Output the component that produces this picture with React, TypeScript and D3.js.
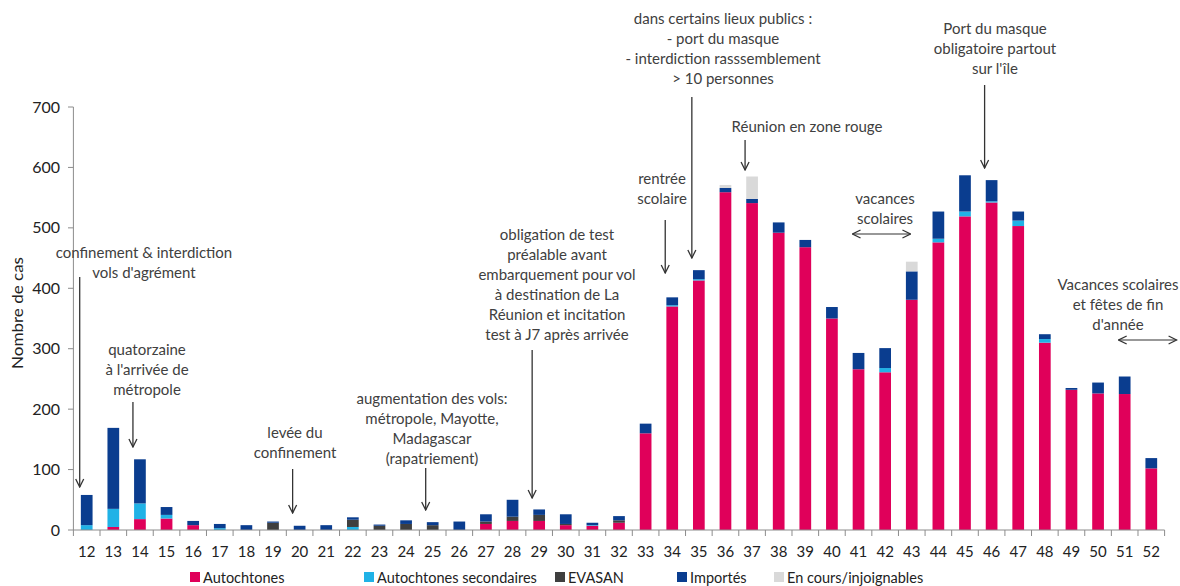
import React from 'react';
import * as d3 from 'd3';

const weeks = [12,13,14,15,16,17,18,19,20,21,22,23,24,25,26,27,28,29,30,31,32,33,34,35,36,37,38,39,40,41,42,43,44,45,46,47,48,49,50,51,52];

const autochtones = [0,5,18,19,8,0,0,0,0,0,0,0,0,0,0,10,15,15,8,7,12,160,370,413,559,541,492,468,350,266,261,381,476,519,542,503,310,232,226,225,102];
const secondaires = [8,30,26,6,0,3,0,0,0,0,5,0,0,0,0,0,0,0,0,1,0,0,2,2,0,0,0,0,0,0,7,0,6,8,2,9,6,0,0,0,0];
const evasan = [0,0,0,0,0,0,0,12,0,0,12,7,10,8,0,4,7,10,2,0,4,0,0,0,0,0,0,0,0,0,0,0,0,0,0,0,0,0,0,0,0];
const importes = [50,134,73,13,7,7,8,2,7,8,4,2,6,5,14,12,28,9,16,4,7,16,13,15,7,7,17,12,19,27,33,47,45,60,35,15,8,3,18,29,17];
const enCours = [0,0,0,0,0,0,0,0,0,0,0,0,0,0,0,0,0,0,0,0,0,0,0,0,5,37,0,0,0,0,0,16,0,0,0,0,0,0,0,0,0];

const seriesNames = ['Autochtones', 'Autochtones secondaires', 'EVASAN', 'Importés', 'En cours/injoignables'];
const seriesColors = ['#e0005a', '#20b2e6', '#3f3f3f', '#0a3d8f', '#d9d9d9'];
const yTicks = [0, 100, 200, 300, 400, 500, 600, 700];

const FONT = 'Lato, "Open Sans", sans-serif';
const TEXT = '#404040';

// annotations: text lines anchored at a center x and first baseline
const notes = [
  { x: 144, y: 258, lines: ['confinement &  interdiction', "vols d'agrément"] },
  { x: 147, y: 355, lines: ['quatorzaine', "à l'arrivée de", 'métropole'] },
  { x: 295, y: 438, lines: ['levée du', 'confinement'] },
  { x: 432, y: 404, lines: ['augmentation des vols:', 'métropole, Mayotte,', 'Madagascar', '(rapatriement)'] },
  { x: 557, y: 240, lines: ['obligation de test', 'préalable avant', 'embarquement pour vol', 'à destination de La', 'Réunion et incitation', 'test à J7 après arrivée'] },
  { x: 662, y: 184, lines: ['rentrée', 'scolaire'] },
  { x: 723, y: 24, lines: ['dans certains lieux publics :', '- port du masque', '- interdiction rasssemblement', '> 10 personnes'] },
  { x: 807, y: 132, lines: ['Réunion en zone rouge'] },
  { x: 885, y: 204, lines: ['vacances', 'scolaires'] },
  { x: 995, y: 34, lines: ['Port du masque', 'obligatoire partout', "sur l'île"] },
  { x: 1118, y: 290, lines: ['Vacances scolaires', 'et fêtes de fin', "d'année"] },
];

// down arrows: week, y start, y end
const arrows = [
  { week: 12, y1: 277, y2: 487 },
  { week: 14, y1: 402, y2: 447 },
  { week: 20, y1: 469, y2: 513 },
  { week: 25, y1: 468, y2: 510 },
  { week: 29, y1: 350, y2: 498 },
  { week: 34, y1: 220, y2: 273 },
  { week: 35, y1: 97, y2: 258 },
  { week: 37, y1: 140, y2: 170 },
  { week: 46, y1: 85, y2: 168 },
];

const spans = [
  { from: 41, to: 43, y: 234 },
  { from: 51, to: 53, y: 340 },
];

export default function App() {
  const width = 1180;
  const height = 586;

  const x = d3.scaleBand<string>()
    .domain(weeks.map(String))
    .range([73.4, 1164.6])
    .paddingInner(0.56)
    .paddingOuter(0.28);
  const step = x.step();
  const y = d3.scaleLinear().domain([0, 700]).range([530, 107]);

  const rows = weeks.map((w, i) => ({
    week: String(w),
    s0: autochtones[i], s1: secondaires[i], s2: evasan[i], s3: importes[i], s4: enCours[i],
  }));
  const stack = d3.stack<any>().keys(['s0', 's1', 's2', 's3', 's4'])(rows);

  const cx = (w: number) => (x(String(w)) ?? 0) + x.bandwidth() / 2;
  const edge = (w: number) => 73.4 + (w - 12) * step;

  const legendX = [190, 364, 555, 677, 774];

  return (
    <svg width={width} height={height} style={{ position: 'absolute', left: 0, top: 0, background: '#fff' }} fontFamily={FONT}>
      <defs>
        <marker id="ah" viewBox="0 0 10 10" refX="9" refY="5" markerWidth="10" markerHeight="10" orient="auto-start-reverse" markerUnits="userSpaceOnUse">
          <path d="M1,1 L9,5 L1,9" fill="none" stroke="#333" strokeWidth="1.3" />
        </marker>
      </defs>

      {/* bars */}
      {stack.map((layer, li) => (
        <g key={li} fill={seriesColors[li]}>
          {layer.map((d, i) => (d[1] - d[0] > 0 ? (
            <rect key={i} x={x(String(weeks[i]))} y={y(d[1])} width={x.bandwidth()} height={y(d[0]) - y(d[1])} />
          ) : null))}
        </g>
      ))}

      {/* y axis */}
      <line x1={73.4} x2={73.4} y1={107} y2={530} stroke="#8c8c8c" />
      {yTicks.map(t => (
        <g key={t}>
          <line x1={68} x2={73.4} y1={y(t)} y2={y(t)} stroke="#8c8c8c" />
          <text x={60} y={y(t)} dy="0.35em" textAnchor="end" fontSize={16} fill="#222">{t}</text>
        </g>
      ))}
      <text transform="translate(23,313) rotate(-90)" textAnchor="middle" fontSize={16} fill="#222"
        textLength={112} lengthAdjust="spacingAndGlyphs">Nombre de cas</text>

      {/* x axis */}
      <line x1={73.4} x2={1164.6} y1={530} y2={530} stroke="#8c8c8c" />
      {weeks.concat([53]).map(w => (
        <line key={w} x1={edge(w)} x2={edge(w)} y1={530} y2={536} stroke="#8c8c8c" />
      ))}
      {weeks.map(w => (
        <text key={w} x={cx(w)} y={557} textAnchor="middle" fontSize={15} fill="#222">{w}</text>
      ))}

      {/* annotations */}
      {notes.map((n, i) => (
        <text key={i} x={n.x} y={n.y} textAnchor="middle" fontSize={15} fill={TEXT}>
          {n.lines.map((l, j) => (
            <tspan key={j} x={n.x} y={n.y + j * 20}>{l}</tspan>
          ))}
        </text>
      ))}
      {arrows.map((a, i) => (
        <line key={i} x1={cx(a.week) - 7} x2={cx(a.week) - 7} y1={a.y1} y2={a.y2}
          stroke="#333" strokeWidth={1.3} markerEnd="url(#ah)" />
      ))}
      {spans.map((s, i) => (
        <line key={i} x1={cx(s.from) - 6} x2={edge(s.to) + 12} y1={s.y} y2={s.y}
          stroke="#333" strokeWidth={1.2} markerStart="url(#ah)" markerEnd="url(#ah)" />
      ))}

      {/* legend */}
      {seriesNames.map((name, i) => (
        <g key={name}>
          <rect x={legendX[i]} y={572} width={10} height={10} fill={seriesColors[i]} />
          <text x={legendX[i] + 13} y={583} fontSize={14.5} fill="#222">{name}</text>
        </g>
      ))}
    </svg>
  );
}
